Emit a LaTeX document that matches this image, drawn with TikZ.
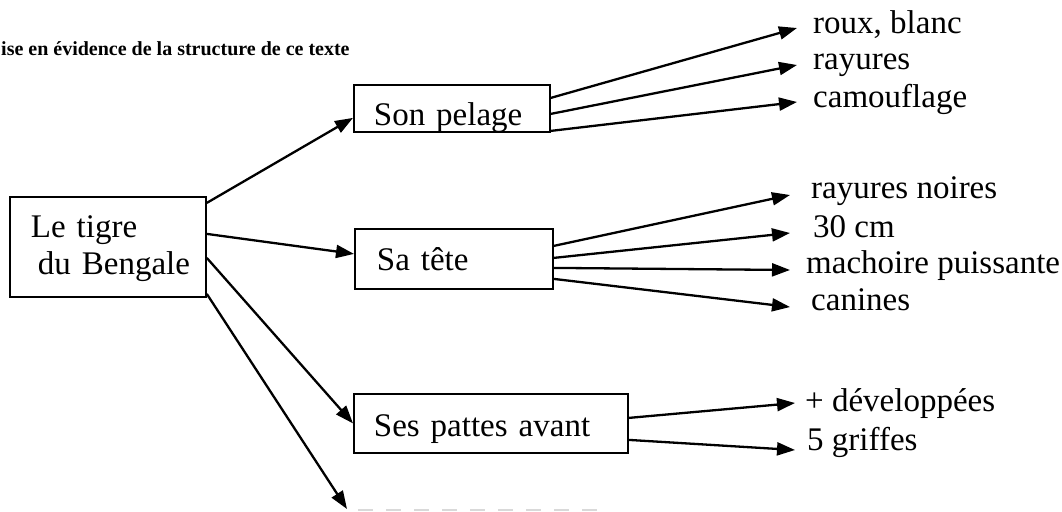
\documentclass[tikz,border=0pt]{standalone}
\usepackage{fontspec}
\setmainfont{Liberation Serif}
\usetikzlibrary{arrows.meta}
\begin{document}
\begin{tikzpicture}[x=1pt,y=-1pt,
  box/.style={draw, line width=1.8pt, inner ysep=0pt, anchor=north west, align=left, font=\fontsize{33}{37}\selectfont},
  leaf/.style={inner sep=0pt, anchor=base west, font=\fontsize{33}{37}\selectfont},
  arr/.style={line width=2.3pt, -{Triangle[length=18pt,width=13pt]}},
  titlestyle/.style={inner sep=0pt, anchor=base west, font=\bfseries\fontsize{20}{24}\selectfont},
  dashline/.style={draw=black!15, line width=2pt, dash pattern=on 15pt off 13pt}
]
\useasboundingbox (0,0) rectangle (1062,511);

\node[titlestyle] (title) at (1,56) {ise en évidence de la structure de ce texte};

% boxes
\node[box, inner xsep=0pt, text width=196pt, text height=41pt, text depth=59pt] (tigre) at (9,196) {\hspace*{21pt}Le tigre\\\hspace*{28pt}du Bengale};
\node[box, inner xsep=20pt, text width=156pt, text height=41pt, text depth=6pt] (sp) at (353,84) {Son pelage};
\node[box, inner xsep=22pt, text width=154pt, text height=42pt, text depth=18pt] (st) at (354,228) {Sa tête};
\node[box, inner xsep=20pt, text width=234pt, text height=43pt, text depth=16pt] (spa) at (353,393) {Ses pattes avant};

% leaves
\node[leaf] (l1) at (813,34) {roux, blanc};
\node[leaf] (l2) at (813,70) {rayures};
\node[leaf] (l3) at (813,107) {camouflage};
\node[leaf] (m1) at (811,198) {rayures noires};
\node[leaf] (m2) at (813,237) {30 cm};
\node[leaf] (m3) at (806,273) {machoire puissante};
\node[leaf] (m4) at (811,310) {canines};
\node[leaf] (n1) at (805,411) {+ développées};
\node[leaf] (n2) at (807,450) {5 griffes};

\coordinate (bot) at (347,509);

% main arrows
\draw[arr] ([yshift=44pt]tigre.east) -- ([yshift=-9.5pt]sp.west);
\draw[arr] ([yshift=13pt]tigre.east) -- ([yshift=5pt]st.west);
\draw[arr] ([yshift=-11pt]tigre.east) -- (spa.west);
\draw[arr] ([yshift=-47pt]tigre.east) -- (bot);

% son pelage
\draw[arr] ([yshift=10.5pt]sp.east) -- ([xshift=-16pt,yshift=6pt]l1.base west);
\draw[arr] ([yshift=-5.5pt]sp.east) -- ([xshift=-16pt,yshift=5pt]l2.base west);
\draw[arr] ([yshift=-22.5pt]sp.east) -- ([xshift=-16pt,yshift=5pt]l3.base west);

% sa tete
\draw[arr] ([yshift=13pt]st.east) -- ([xshift=-21pt,yshift=3pt]m1.base west);
\draw[arr] ([yshift=1pt]st.east) -- ([xshift=-23pt,yshift=4pt]m2.base west);
\draw[arr] ([yshift=-9pt]st.east) -- ([xshift=-16pt,yshift=3pt]m3.base west);
\draw[arr] ([yshift=-20pt]st.east) -- ([xshift=-21pt,yshift=3pt]m4.base west);

% pattes
\draw[arr] ([yshift=5.5pt]spa.east) -- ([xshift=-10pt,yshift=8pt]n1.base west);
\draw[arr] ([yshift=-16.5pt]spa.east) -- ([xshift=-12pt]n2.base west);

% cut-off box at bottom
\draw[dashline] (358,510) -- (600,510);
\end{tikzpicture}
\end{document}
